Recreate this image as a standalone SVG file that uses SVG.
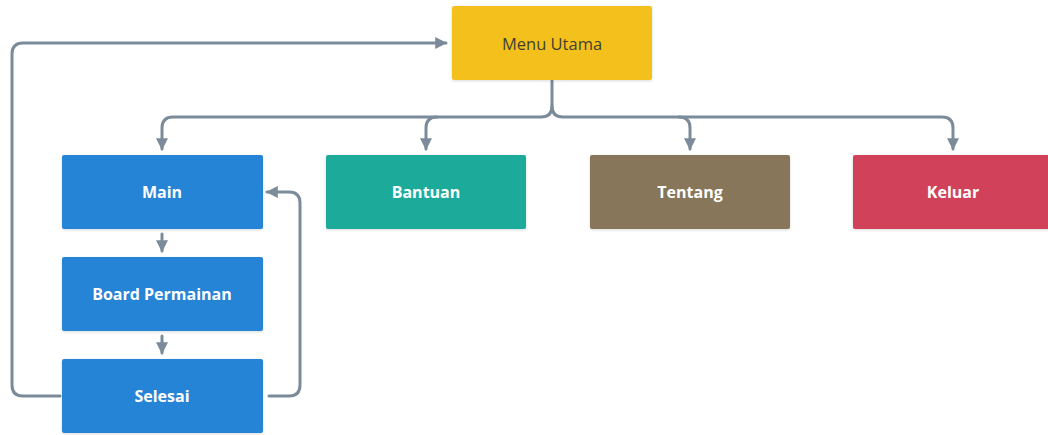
<svg xmlns="http://www.w3.org/2000/svg" width="1048" height="435" viewBox="0 0 1048 435">
<style>
.box{rx:2;ry:2;filter:url(#sh)}
.lbl{font-family:"Open Sans",Lato,sans-serif;font-size:16px;font-weight:700;fill:#ffffff;text-anchor:middle;dominant-baseline:central}
.dark{fill:#3f3f33;font-weight:500;font-size:16.5px}
.con{fill:none;stroke:#7b8b99;stroke-width:3;stroke-linecap:round;stroke-linejoin:round}
</style>
<defs>
<filter id="sh" x="-10%" y="-10%" width="120%" height="130%">
<feDropShadow dx="0" dy="1" stdDeviation="1.5" flood-color="#000" flood-opacity="0.15"/>
</filter>
<marker id="ah" viewBox="0 0 10 10" refX="9" refY="5" markerWidth="4" markerHeight="4" orient="auto" markerUnits="strokeWidth">
<path d="M0,0 L10,5 L0,10 z" fill="#7b8b99"/>
</marker>
</defs>
<rect width="1048" height="435" fill="#ffffff"/>
<g id="connectors">
<path class="con" d="M552,81 V106 Q552,117 541,117 H173 Q162,117 162,128 V149" marker-end="url(#ah)"/>
<path class="con" d="M552,106 Q552,117 563,117 H942 Q953,117 953,128 V149" marker-end="url(#ah)"/>
<path class="con" d="M437,117 Q426,117 426,128 V149" marker-end="url(#ah)"/>
<path class="con" d="M679,117 Q690,117 690,128 V149" marker-end="url(#ah)"/>
<path class="con" d="M162,234 V251" marker-end="url(#ah)"/>
<path class="con" d="M162,336 V353" marker-end="url(#ah)"/>
<path class="con" d="M60,396 H23 Q12,396 12,385 V54 Q12,43 23,43 H446" marker-end="url(#ah)"/>
<path class="con" d="M269,396 H289 Q300,396 300,385 V203 Q300,192 289,192 H267" marker-end="url(#ah)"/>
</g>
<g id="menu-utama"><rect class="box" x="452" y="6" width="200" height="74" fill="#f4c11f"/><text class="lbl dark" x="552" y="43">Menu Utama</text></g>
<g id="main"><rect class="box" x="62" y="155" width="201" height="74" fill="#2784d6"/><text class="lbl" x="162" y="192">Main</text></g>
<g id="bantuan"><rect class="box" x="326" y="155" width="200" height="74" fill="#1aab9b"/><text class="lbl" x="426" y="192">Bantuan</text></g>
<g id="tentang"><rect class="box" x="590" y="155" width="200" height="74" fill="#87765a"/><text class="lbl" x="690" y="192">Tentang</text></g>
<g id="keluar"><rect class="box" x="853" y="155" width="200" height="74" fill="#d1425a"/><text class="lbl" x="953" y="192">Keluar</text></g>
<g id="board-permainan"><rect class="box" x="62" y="257" width="201" height="74" fill="#2784d6"/><text class="lbl" x="162" y="294">Board Permainan</text></g>
<g id="selesai"><rect class="box" x="62" y="359" width="201" height="74" fill="#2784d6"/><text class="lbl" x="162" y="396">Selesai</text></g>
</svg>
